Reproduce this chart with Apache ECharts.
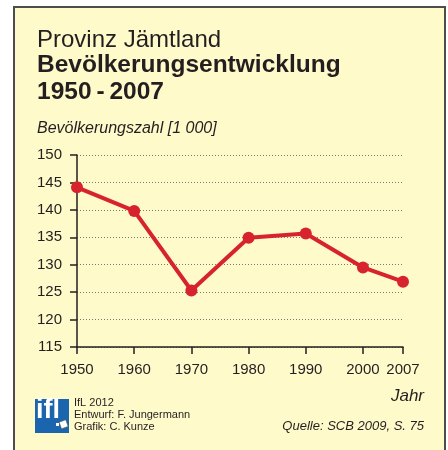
<!DOCTYPE html>
<html>
<head>
<meta charset="utf-8">
<script src="https://cdn.jsdelivr.net/npm/echarts@6/dist/echarts.min.js"></script>
<style>
  html, body { margin: 0; padding: 0; background: #fff; }
  #chart { width: 448px; height: 450px; }
</style>
</head>
<body>
<div id="chart"></div>
<script>
var chartDom = document.getElementById('chart');
var myChart = echarts.init(chartDom);
var option;

// data (population in 1000)
const years = [1950, 1960, 1970, 1980, 1990, 2000, 2007];
const population = [144.1, 139.8, 125.3, 134.9, 135.7, 129.5, 126.9];
const yearTicks = [1950, 1960, 1970, 1980, 1990, 2000, 2007];

const font = 'Liberation Sans, Arial, sans-serif';
const textColor = '#231f20';
const red = '#d7232d';

option = {
  backgroundColor: '#ffffff',
  animation: false,
  title: [
    {
      text: 'Provinz Jämtland',
      left: 37, top: 28, padding: 0,
      textStyle: { fontFamily: font, fontSize: 24, fontWeight: 'normal', color: textColor }
    },
    {
      text: 'Bevölkerungsentwicklung',
      left: 37, top: 53, padding: 0,
      textStyle: { fontFamily: font, fontSize: 24.5, fontWeight: 'bold', color: textColor }
    },
    {
      text: '1950\u2009-\u20092007',
      left: 37, top: 80, padding: 0,
      textStyle: { fontFamily: font, fontSize: 24.5, fontWeight: 'bold', color: textColor }
    }
  ],
  graphic: [
    // frame
    {
      type: 'rect', z: -10, silent: true,
      shape: { x: 14, y: 7, width: 431, height: 460 },
      style: { fill: '#fffaca', stroke: '#4d4d4d', lineWidth: 2 }
    },
    // y axis name
    {
      type: 'text', left: 37, top: 121,
      style: { text: 'Bevölkerungszahl [1 000]', font: 'italic 16px ' + font, fill: textColor }
    },
    // x axis name
    {
      type: 'text', right: 24, top: 388,
      style: { text: 'Jahr', font: 'italic 17px ' + font, fill: textColor, textAlign: 'right' }
    },
    // source
    {
      type: 'text', right: 24, top: 420,
      style: { text: 'Quelle: SCB 2009, S. 75', font: 'italic 13px ' + font, fill: textColor, textAlign: 'right' }
    },
    // credits
    {
      type: 'text', left: 74, top: 397,
      style: { text: 'IfL 2012\nEntwurf: F. Jungermann\nGrafik: C. Kunze', font: '11px ' + font, fill: textColor, lineHeight: 12 }
    },
    // logo
    {
      type: 'group', left: 35, top: 397,
      children: [
        { type: 'rect', shape: { x: 0, y: 0, width: 34, height: 34 }, style: { fill: '#1b64ae' } },
        { type: 'text', x: 1, y: -2, style: { text: 'ifl', font: 'bold 27px ' + font, fill: '#ffffff' } },
        { type: 'rect', shape: { x: 21, y: 24, width: 3, height: 3 }, style: { fill: '#ffffff' } },
        { type: 'rect', shape: { x: -3, y: -3, width: 7, height: 7 }, x: 28, y: 25, rotation: 0.35,
          style: { fill: '#ffffff', stroke: '#555', lineWidth: 0.5 } }
      ]
    }
  ],
  grid: {
    left: 77,
    right: 45,
    top: 155,
    bottom: 103
  },
  xAxis: {
    type: 'value',
    min: 1950,
    max: 2007,
    interval: 10,
    splitLine: { show: false },
    axisLine: { show: true, lineStyle: { color: '#231f20', width: 1.5 } },
    axisTick: {
      show: true, length: 7, customValues: yearTicks,
      lineStyle: { color: '#231f20', width: 1.5 }
    },
    axisLabel: {
      customValues: yearTicks,
      margin: 15,
      fontFamily: font, fontSize: 15, color: textColor,
      formatter: function (v) { return String(v); }
    }
  },
  yAxis: {
    type: 'value',
    min: 115,
    max: 150,
    interval: 5,
    axisLine: { show: true, lineStyle: { color: '#231f20', width: 1.5 } },
    axisTick: { show: true, length: 7, lineStyle: { color: '#231f20', width: 1.5 } },
    axisLabel: { margin: 15, fontFamily: font, fontSize: 15, color: textColor },
    splitLine: {
      show: true,
      lineStyle: { color: '#7a7a7a', type: [1, 2], width: 1 }
    }
  },
  series: [
    {
      name: 'Bevölkerung',
      type: 'line',
      data: years.map(function (y, i) { return [y, population[i]]; }),
      symbol: 'circle',
      symbolSize: 12,
      lineStyle: { color: red, width: 4 },
      itemStyle: { color: red },
      z: 5
    }
  ]
};

option && myChart.setOption(option);
</script>
</body>
</html>
